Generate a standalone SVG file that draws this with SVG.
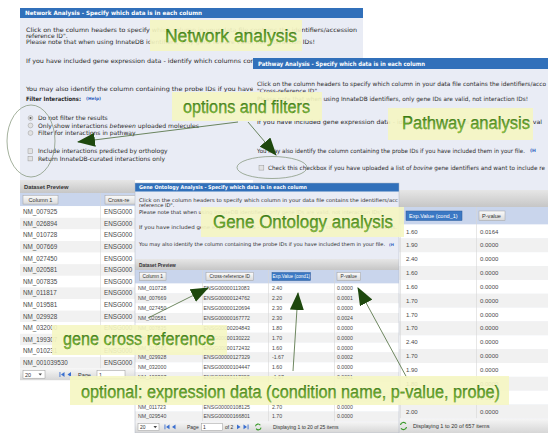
<svg xmlns="http://www.w3.org/2000/svg" width="548" height="433" viewBox="0 0 548 433">
<defs>
<linearGradient id="band" x1="0" y1="0" x2="0" y2="1"><stop offset="0" stop-color="#e6e6e6"/><stop offset="1" stop-color="#c6c6c6"/></linearGradient>
<linearGradient id="pager" x1="0" y1="0" x2="0" y2="1"><stop offset="0" stop-color="#f6f6f6"/><stop offset="1" stop-color="#d6d6d6"/></linearGradient>
<linearGradient id="btn" x1="0" y1="0" x2="0" y2="1"><stop offset="0" stop-color="#fbfbfb"/><stop offset="1" stop-color="#dadada"/></linearGradient>
<linearGradient id="lg" x1="0" y1="0" x2="0" y2="1"><stop offset="0" stop-color="#2f7c0e"/><stop offset="1" stop-color="#8cca3e"/></linearGradient>
<marker id="ah" viewBox="0 0 18 14" refX="17" refY="7" markerWidth="18" markerHeight="14" orient="auto" markerUnits="userSpaceOnUse"><path d="M0,0 L18,7 L0,14 z" fill="#1e480e"/></marker>
<clipPath id="goclip"><rect x="135" y="183" width="264" height="250"/></clipPath>
<clipPath id="ntclip"><rect x="20" y="180" width="115" height="202"/></clipPath>
</defs>
<style>
.body{fill:#e9ecf5}
.hdr{fill:#3170ba}
.hdrt{font-family:"DejaVu Sans",sans-serif;font-weight:bold;fill:#ffffff}
.t{font-family:"DejaVu Sans",sans-serif;fill:#2b2b2b}
.help{font-family:"DejaVu Sans",sans-serif;fill:#2f5fc0;font-weight:bold}
.c{font-family:"Liberation Sans",Arial,sans-serif;fill:#4a4a4a}
.bt{font-family:"Liberation Sans",Arial,sans-serif;fill:#333}
.btn{fill:url(#btn);stroke:#a0a0a0;stroke-width:0.5}
.sel{fill:#3b78c4;stroke:#2a5a98;stroke-width:0.5}
.alt{fill:#f1f1f1}
.wh{fill:#ffffff}
.hrow{fill:#c9d5ec}
.div{stroke:#d6d6d6;stroke-width:0.6}
.box{fill:#f5f6c2;opacity:0.9}
.lbl{font-family:"Liberation Sans",Arial,sans-serif;font-size:18px;fill:url(#lg);stroke:#2a560c;stroke-width:0.25}
.conn{stroke:#4a6a38;stroke-width:0.8;fill:none}
.ell{fill:none;stroke:#7d8f72;stroke-width:0.7}
.rad{fill:#e2e2e2;stroke:#9a9a9a;stroke-width:0.5}
.ico{fill:#3a6fd0}
</style>
<rect width="548" height="433" fill="#ffffff"/>

<g id="network-window">
<rect x="20" y="8" width="343" height="172" class="body"/>
<rect x="20" y="8" width="343" height="10" class="hdr"/>
<text x="25" y="15.2" class="hdrt" font-size="5.8" textLength="177" lengthAdjust="spacingAndGlyphs">Network Analysis - Specify which data is in each column</text>
<text x="26" y="31.8" class="t" font-size="6" textLength="331" lengthAdjust="spacingAndGlyphs">Click on the column headers to specify which column in your data file contains the identifiers/accession</text>
<text x="26" y="37.6" class="t" font-size="6">reference ID".</text>
<text x="26" y="44" class="t" font-size="6" textLength="289" lengthAdjust="spacingAndGlyphs">Please note that when using InnateDB identifiers, only gene IDs are valid, not interaction IDs!</text>
<text x="26" y="63" class="t" font-size="6" textLength="302" lengthAdjust="spacingAndGlyphs">If you have included gene expression data - identify which columns contain expression values.</text>
<text x="26" y="91" class="t" font-size="6" textLength="315" lengthAdjust="spacingAndGlyphs">You may also identify the column containing the probe IDs if you have included them in your file.</text>
<text x="26" y="100.5" class="t" font-size="6" font-weight="bold" textLength="55" lengthAdjust="spacingAndGlyphs">Filter Interactions:</text>
<text x="86" y="100.3" class="help" font-size="4.3">(Help)</text>
<circle cx="30.5" cy="118" r="2.4" class="rad"/><circle cx="30.5" cy="118" r="1" fill="#555"/>
<circle cx="30.5" cy="125.5" r="2.4" class="rad"/>
<circle cx="30.5" cy="133" r="2.4" class="rad"/>
<text x="38" y="120.2" class="t" font-size="6">Do not filter the results</text>
<text x="38" y="127.7" class="t" font-size="6" textLength="161" lengthAdjust="spacingAndGlyphs">Only show interactions <tspan font-style="italic">between</tspan> uploaded molecules</text>
<text x="38" y="135.2" class="t" font-size="6">Filter for interactions in pathway</text>
<rect x="28" y="148.8" width="4.6" height="4.6" class="rad"/>
<rect x="28" y="156.3" width="4.6" height="4.6" class="rad"/>
<text x="38" y="153.3" class="t" font-size="6">Include interactions predicted by orthology</text>
<text x="38" y="160.8" class="t" font-size="6">Return InnateDB-curated interactions only</text>
</g>

<g id="network-table" clip-path="url(#ntclip)">
<rect x="20" y="180" width="115" height="13" fill="url(#band)"/>
<text x="24" y="188.6" class="bt" font-size="5.8" font-weight="bold">Dataset Preview</text>
<rect x="20" y="193" width="115" height="13.2" class="hrow"/>
<rect x="23" y="195.3" width="35" height="8.8" class="btn"/>
<text x="40.5" y="201.6" class="bt" font-size="5.6" text-anchor="middle">Column 1</text>
<rect x="105" y="195.3" width="40" height="8.8" class="btn"/>
<text x="108" y="201.6" class="bt" font-size="5.6">Cross-re</text>
<rect x="20" y="206.2" width="115" height="11.6" class="wh"/>
<rect x="20" y="217.8" width="115" height="11.6" class="alt"/>
<rect x="20" y="229.4" width="115" height="11.6" class="wh"/>
<rect x="20" y="241" width="115" height="11.6" class="alt"/>
<rect x="20" y="252.6" width="115" height="11.6" class="wh"/>
<rect x="20" y="264.2" width="115" height="11.6" class="alt"/>
<rect x="20" y="275.8" width="115" height="11.6" class="wh"/>
<rect x="20" y="287.4" width="115" height="11.6" class="alt"/>
<rect x="20" y="299" width="115" height="11.6" class="wh"/>
<rect x="20" y="310.6" width="115" height="11.6" class="alt"/>
<rect x="20" y="322.2" width="115" height="11.6" class="wh"/>
<rect x="20" y="333.8" width="115" height="11.6" class="alt"/>
<rect x="20" y="345.4" width="115" height="11.6" class="wh"/>
<rect x="20" y="357" width="115" height="11.6" class="alt"/>
<line x1="100.5" y1="193" x2="100.5" y2="368.6" class="div"/>
<g class="c" font-size="6.3">
<text x="23" y="214.2">NM_007925</text><text x="104" y="214.2">ENSG000</text>
<text x="23" y="225.8">NM_026894</text><text x="104" y="225.8">ENSG000</text>
<text x="23" y="237.4">NM_010728</text><text x="104" y="237.4">ENSG000</text>
<text x="23" y="249">NM_007669</text><text x="104" y="249">ENSG000</text>
<text x="23" y="260.6">NM_027450</text><text x="104" y="260.6">ENSG000</text>
<text x="23" y="272.2">NM_020581</text><text x="104" y="272.2">ENSG000</text>
<text x="23" y="283.8">NM_007835</text><text x="104" y="283.8">ENSG000</text>
<text x="23" y="295.4">NM_011817</text><text x="104" y="295.4">ENSG000</text>
<text x="23" y="307">NM_019581</text><text x="104" y="307">ENSG000</text>
<text x="23" y="318.6">NM_029928</text><text x="104" y="318.6">ENSG000</text>
<text x="23" y="330.2">NM_032000</text><text x="104" y="330.2">ENSG000</text>
<text x="23" y="341.8">NM_199307</text><text x="104" y="341.8">ENSG000</text>
<text x="23" y="353.4">NM_010231</text><text x="104" y="353.4">ENSG000</text>
<text x="23" y="365">NM_001039530</text><text x="104" y="365">ENSG000</text>
</g>
<rect x="20" y="368.6" width="115" height="11.6" fill="url(#pager)"/>
<rect x="23" y="370.6" width="22" height="7.6" fill="#fff" stroke="#999" stroke-width="0.5"/>
<text x="25" y="376.6" class="bt" font-size="5.5">20</text>
<polygon points="38.5,373.4 42,373.4 40.25,375.6" fill="#444"/>
<rect x="59.5" y="372" width="0.9" height="5" class="ico"/>
<polygon points="64.5,372 64.5,377 61,374.5" class="ico"/>
<polygon points="71,372 71,377 67.5,374.5" class="ico"/>
<text x="78" y="376.6" class="bt" font-size="5.5">Page</text>
<rect x="97" y="370.6" width="28" height="7.6" fill="#fff" stroke="#999" stroke-width="0.5"/>
<text x="99" y="376.6" class="bt" font-size="5.5">1</text>
</g>

<g id="pathway-window">
<rect x="253" y="58" width="295" height="375" class="body"/>
<rect x="253" y="58" width="295" height="11" class="hdr"/>
<text x="258" y="65.8" class="hdrt" font-size="6" textLength="167" lengthAdjust="spacingAndGlyphs">Pathway Analysis - Specify which data is in each column</text>
<text x="257" y="86" class="t" font-size="5.9" textLength="289" lengthAdjust="spacingAndGlyphs">Click on the column headers to specify which column in your data file contains the identifiers/acco</text>
<text x="257" y="92.5" class="t" font-size="5.9" textLength="62" lengthAdjust="spacingAndGlyphs">"Cross-reference ID".</text>
<text x="257" y="101" class="t" font-size="5.9" textLength="271" lengthAdjust="spacingAndGlyphs">Please note that when using InnateDB identifiers, only gene IDs are valid, not interaction IDs!</text>
<text x="257" y="124" class="t" font-size="5.9" textLength="285" lengthAdjust="spacingAndGlyphs">If you have included gene expression data - identify which columns contain expression val</text>
<text x="257" y="152.5" class="t" font-size="5.9" textLength="268" lengthAdjust="spacingAndGlyphs">You may also identify the column containing the probe IDs if you have included them in your file.</text>
<text x="530" y="152.3" class="help" font-size="4.6">(H</text>
<rect x="259" y="165.3" width="4.8" height="4.8" class="rad"/>
<text x="268" y="169.8" class="t" font-size="5.9" textLength="277" lengthAdjust="spacingAndGlyphs">Check this checkbox if you have uploaded a list of <tspan font-style="italic">bovine</tspan> gene identifiers and want to include re</text>
</g>

<g id="pathway-table">
<rect x="399" y="190" width="149" height="17" fill="url(#band)"/>
<rect x="399" y="207" width="149" height="17.5" class="hrow"/>
<rect x="406" y="211" width="56" height="9.5" class="sel"/>
<text x="409" y="217.8" font-family="Liberation Sans,Arial,sans-serif" font-size="5.6" fill="#fff">Exp.Value (cond_1)</text>
<rect x="479" y="211" width="26" height="9.5" class="btn"/>
<text x="482" y="217.8" class="bt" font-size="5.6">P-value</text>
<rect x="399" y="224.5" width="149" height="13.85" class="wh"/>
<rect x="399" y="238.35" width="149" height="13.85" class="alt"/>
<rect x="399" y="252.2" width="149" height="13.85" class="wh"/>
<rect x="399" y="266.05" width="149" height="13.85" class="alt"/>
<rect x="399" y="279.9" width="149" height="13.85" class="wh"/>
<rect x="399" y="293.75" width="149" height="13.85" class="alt"/>
<rect x="399" y="307.6" width="149" height="13.85" class="wh"/>
<rect x="399" y="321.45" width="149" height="13.85" class="alt"/>
<rect x="399" y="335.3" width="149" height="13.85" class="wh"/>
<rect x="399" y="349.15" width="149" height="13.85" class="alt"/>
<rect x="399" y="363" width="149" height="13.85" class="wh"/>
<rect x="399" y="376.85" width="149" height="13.85" class="alt"/>
<rect x="399" y="390.7" width="149" height="13.85" class="wh"/>
<rect x="399" y="404.55" width="149" height="13.85" class="alt"/>
<line x1="400.5" y1="207" x2="400.5" y2="418.4" class="div"/>
<line x1="476.5" y1="207" x2="476.5" y2="418.4" class="div"/>
<g class="c" font-size="6">
<text x="406" y="233.5">1.60</text><text x="480" y="233.5">0.0164</text>
<text x="406" y="247.35">1.90</text><text x="480" y="247.35">0.0000</text>
<text x="406" y="261.2">2.40</text><text x="480" y="261.2">0.0000</text>
<text x="406" y="275.05">1.60</text><text x="480" y="275.05">0.0000</text>
<text x="406" y="288.9">1.60</text><text x="480" y="288.9">0.0000</text>
<text x="406" y="302.75">1.70</text><text x="480" y="302.75">0.0000</text>
<text x="406" y="316.6">1.70</text><text x="480" y="316.6">0.0000</text>
<text x="406" y="330.45">1.70</text><text x="480" y="330.45">0.0000</text>
<text x="406" y="344.3">2.40</text><text x="480" y="344.3">0.0000</text>
<text x="406" y="358.15">1.70</text><text x="480" y="358.15">0.0000</text>
<text x="406" y="372">1.90</text><text x="480" y="372">0.0000</text>
<text x="406" y="385.85">1.80</text><text x="480" y="385.85">0.0000</text>
<text x="406" y="399.7">2.10</text><text x="480" y="399.7">0.0000</text>
<text x="406" y="413.55">2.00</text><text x="480" y="413.55">0.0000</text>
</g>
<rect x="399" y="418.4" width="149" height="14.6" fill="url(#pager)"/>
<path d="M400.5,425 a3,3 0 0 1 5.5,-1.2 M406.5,427 a3,3 0 0 1 -5.5,1.2" fill="none" stroke="#3a9a2a" stroke-width="1.2"/>
<text x="413" y="428" class="bt" font-size="5.6">Displaying 1 to 20 of 657 items</text>
</g>

<g id="go-window" clip-path="url(#goclip)">
<rect x="135" y="183" width="264" height="250" class="body"/>
<rect x="135" y="183" width="264" height="8.5" class="hdr"/>
<text x="139" y="189.4" class="hdrt" font-size="5.2" textLength="168" lengthAdjust="spacingAndGlyphs">Gene Ontology Analysis - Specify which data is in each column</text>
<text x="139" y="201.8" class="t" font-size="5.1" textLength="259" lengthAdjust="spacingAndGlyphs">Click on the column headers to specify which column in your data file contains the identifiers/acc</text>
<text x="139" y="207" class="t" font-size="5.1">reference ID".</text>
<text x="139" y="213.8" class="t" font-size="5.1" textLength="243" lengthAdjust="spacingAndGlyphs">Please note that when using InnateDB identifiers, only gene IDs are valid, not interaction IDs!</text>
<text x="139" y="228.8" class="t" font-size="5.1" textLength="258" lengthAdjust="spacingAndGlyphs">If you have included gene expression data - identify which columns contain expression levels.</text>
<text x="139" y="245.8" class="t" font-size="5.1" textLength="246" lengthAdjust="spacingAndGlyphs">You may also identify the column containing the probe IDs if you have included them in your file.</text>
<text x="389" y="245.6" class="help" font-size="3.8">(H</text>
<rect x="135" y="259" width="264" height="11" fill="url(#band)"/>
<text x="139" y="266.6" class="bt" font-size="4.8" font-weight="bold">Dataset Preview</text>
<rect x="135" y="270" width="264" height="13.5" class="hrow"/>
<rect x="139.5" y="272.5" width="26.5" height="8" class="btn"/>
<text x="152.75" y="278.3" class="bt" font-size="4.8" text-anchor="middle">Column 1</text>
<rect x="206" y="272.5" width="47.5" height="8" class="btn"/>
<text x="229.75" y="278.3" class="bt" font-size="4.8" text-anchor="middle">Cross-reference ID</text>
<rect x="272" y="272.5" width="38.5" height="8" class="sel"/>
<text x="291.25" y="278.3" font-family="Liberation Sans,Arial,sans-serif" font-size="4.6" fill="#fff" text-anchor="middle">Exp.Value (cond1)</text>
<rect x="337" y="272.5" width="23.5" height="8" class="btn"/>
<text x="348.75" y="278.3" class="bt" font-size="4.8" text-anchor="middle">P-value</text>
<rect x="135" y="283.5" width="264" height="9.85" class="wh"/>
<rect x="135" y="293.35" width="264" height="9.85" class="alt"/>
<rect x="135" y="303.2" width="264" height="9.85" class="wh"/>
<rect x="135" y="313.05" width="264" height="9.85" class="alt"/>
<rect x="135" y="322.9" width="264" height="9.85" class="wh"/>
<rect x="135" y="332.75" width="264" height="9.85" class="alt"/>
<rect x="135" y="342.6" width="264" height="9.85" class="wh"/>
<rect x="135" y="352.45" width="264" height="9.85" class="alt"/>
<rect x="135" y="362.3" width="264" height="9.85" class="wh"/>
<rect x="135" y="372.15" width="264" height="9.85" class="alt"/>
<rect x="135" y="382" width="264" height="9.85" class="wh"/>
<rect x="135" y="391.85" width="264" height="9.85" class="alt"/>
<rect x="135" y="401.7" width="264" height="9.85" class="wh"/>
<rect x="135" y="411.55" width="264" height="9.85" class="alt"/>
<line x1="202.5" y1="270" x2="202.5" y2="421.4" class="div"/>
<line x1="268.5" y1="270" x2="268.5" y2="421.4" class="div"/>
<line x1="334.5" y1="270" x2="334.5" y2="421.4" class="div"/>
<g class="c" font-size="5.2">
<text x="138" y="290.4">NM_010728</text><text x="203.5" y="290.4">ENSG00000113083</text><text x="272" y="290.4">2.40</text><text x="337" y="290.4">0.0000</text>
<text x="138" y="300.25">NM_007669</text><text x="203.5" y="300.25">ENSG00000124762</text><text x="272" y="300.25">2.20</text><text x="337" y="300.25">0.0001</text>
<text x="138" y="310.1">NM_027450</text><text x="203.5" y="310.1">ENSG00000120694</text><text x="272" y="310.1">2.30</text><text x="337" y="310.1">0.0000</text>
<text x="138" y="319.95">NM_020581</text><text x="203.5" y="319.95">ENSG00000167772</text><text x="272" y="319.95">2.30</text><text x="337" y="319.95">0.0024</text>
<text x="138" y="329.8">NM_007835</text><text x="203.5" y="329.8">ENSG00000204843</text><text x="272" y="329.8">1.80</text><text x="337" y="329.8">0.0000</text>
<text x="138" y="339.65">NM_011817</text><text x="203.5" y="339.65">ENSG00000130222</text><text x="272" y="339.65">1.70</text><text x="337" y="339.65">0.0000</text>
<text x="138" y="349.5">NM_019581</text><text x="203.5" y="349.5">ENSG00000172432</text><text x="272" y="349.5">1.60</text><text x="337" y="349.5">0.0000</text>
<text x="138" y="359.35">NM_029928</text><text x="203.5" y="359.35">ENSG00000127329</text><text x="272" y="359.35">-1.67</text><text x="337" y="359.35">0.0002</text>
<text x="138" y="369.2">NM_032000</text><text x="203.5" y="369.2">ENSG00000104447</text><text x="272" y="369.2">1.60</text><text x="337" y="369.2">0.0000</text>
<text x="138" y="379.05">NM_199307</text><text x="203.5" y="379.05">ENSG00000117298</text><text x="272" y="379.05">-1.67</text><text x="337" y="379.05">0.0001</text>
<text x="138" y="408.6">NM_011723</text><text x="203.5" y="408.6">ENSG00000108125</text><text x="272" y="408.6">2.70</text><text x="337" y="408.6">0.0000</text>
<text x="138" y="418.45">NM_029540</text><text x="203.5" y="418.45">ENSG00000166801</text><text x="272" y="418.45">1.70</text><text x="337" y="418.45">0.0000</text>
</g>
<rect x="135" y="421.4" width="264" height="11.6" fill="url(#pager)"/>
<rect x="138" y="423.3" width="21" height="7.2" fill="#fff" stroke="#999" stroke-width="0.5"/>
<text x="140" y="428.8" class="bt" font-size="5">20</text>
<polygon points="153.5,426 157,426 155.25,428.2" fill="#444"/>
<rect x="164.5" y="424.5" width="0.9" height="4.8" class="ico"/>
<polygon points="169.5,424.5 169.5,429.3 166,426.9" class="ico"/>
<polygon points="175.5,424.5 175.5,429.3 172,426.9" class="ico"/>
<text x="187" y="428.8" class="bt" font-size="5">Page</text>
<rect x="201.5" y="423.3" width="21" height="7.2" fill="#fff" stroke="#999" stroke-width="0.5"/>
<text x="203" y="428.8" class="bt" font-size="5">1</text>
<text x="225" y="428.8" class="bt" font-size="5">of 2</text>
<polygon points="237,424.5 237,429.3 240.5,426.9" class="ico"/>
<polygon points="243.5,424.5 243.5,429.3 247,426.9" class="ico"/>
<rect x="247.6" y="424.5" width="0.9" height="4.8" class="ico"/>
<path d="M255.5,426.3 a2.6,2.6 0 0 1 4.8,-1 M261,427.6 a2.6,2.6 0 0 1 -4.8,1" fill="none" stroke="#3a9a2a" stroke-width="1.1"/>
<text x="273" y="428.8" class="bt" font-size="5">Displaying 1 to 20 of 25 items</text>
</g>
<rect x="135" y="183" width="264" height="250" fill="none" stroke="#aeb6c6" stroke-width="0.5"/>

<g id="highlight-ellipses">
<ellipse cx="31" cy="141" rx="24" ry="36" class="ell"/>
<ellipse cx="272" cy="167.5" rx="35" ry="11" class="ell"/>
</g>

<g id="connectors">
<line x1="238" y1="122" x2="78" y2="142" class="conn" marker-end="url(#ah)"/>
<line x1="248" y1="122" x2="276" y2="155" class="conn" marker-end="url(#ah)"/>
<line x1="148" y1="318" x2="208" y2="288" class="conn" marker-end="url(#ah)"/>
<line x1="293" y1="371" x2="298" y2="293" class="conn" marker-end="url(#ah)"/>
<line x1="407" y1="378" x2="358" y2="288" class="conn" marker-end="url(#ah)"/>
</g>

<g id="label-network">
<rect x="150" y="20" width="152" height="31" class="box"/>
<text x="165" y="42" class="lbl" textLength="132" lengthAdjust="spacingAndGlyphs">Network analysis</text>
</g>
<g id="label-options">
<rect x="172" y="92" width="150" height="29" class="box"/>
<text x="183" y="113" class="lbl" textLength="127" lengthAdjust="spacingAndGlyphs">options and filters</text>
</g>
<g id="label-pathway">
<rect x="388" y="108" width="145" height="32" class="box"/>
<text x="402" y="128.5" class="lbl" textLength="128" lengthAdjust="spacingAndGlyphs">Pathway analysis</text>
</g>
<g id="label-go">
<rect x="201" y="207" width="203" height="30" class="box"/>
<text x="213" y="228" class="lbl" textLength="180" lengthAdjust="spacingAndGlyphs">Gene Ontology analysis</text>
</g>
<g id="label-crossref">
<rect x="52" y="325" width="175" height="30" class="box"/>
<text x="63" y="345" class="lbl" textLength="152" lengthAdjust="spacingAndGlyphs">gene cross reference</text>
</g>
<g id="label-optional">
<rect x="70" y="376" width="439" height="29" class="box"/>
<text x="81" y="397.5" class="lbl" textLength="419" lengthAdjust="spacingAndGlyphs">optional: expression data (condition name, p-value, probe)</text>
</g>
</svg>
